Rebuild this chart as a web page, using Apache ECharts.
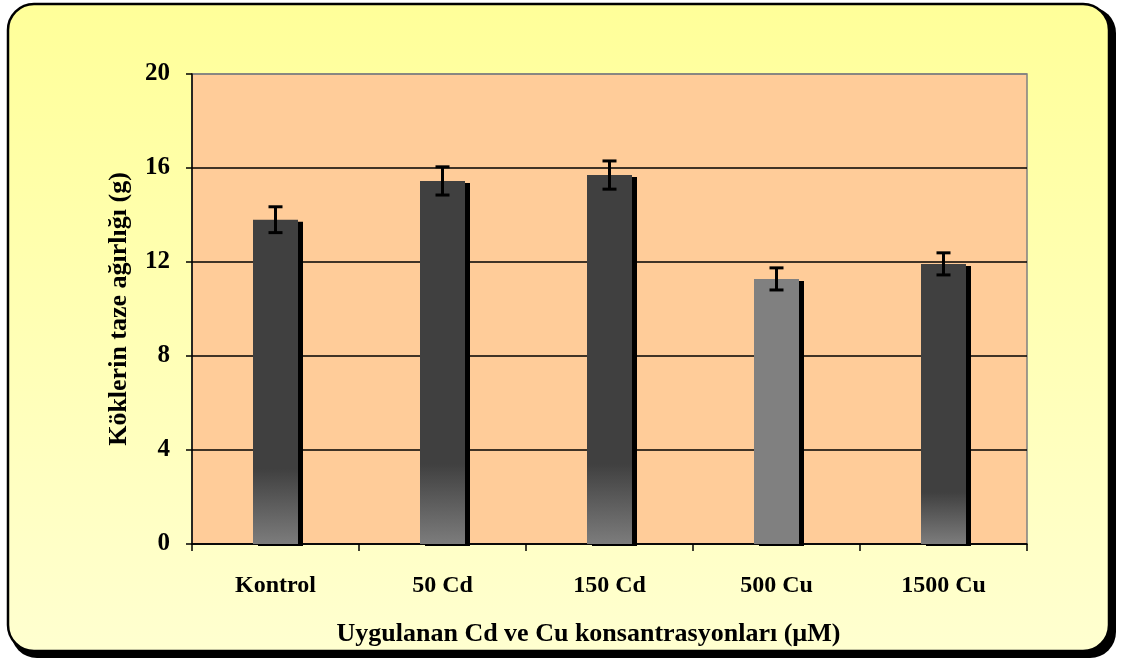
<!DOCTYPE html>
<html>
<head>
<meta charset="utf-8">
<script src="https://cdn.jsdelivr.net/npm/echarts@6/dist/echarts.min.js"></script>
<style>
html,body{margin:0;padding:0;background:#ffffff;}
#chart{width:1125px;height:662px;}
</style>
</head>
<body>
<div id="chart"></div>
<script>
const categories = ['Kontrol', '50 Cd', '150 Cd', '500 Cu', '1500 Cu'];
const means = [13.8, 15.45, 15.7, 11.28, 11.92];
const errors = [0.55, 0.6, 0.6, 0.47, 0.47];
const yTicks = [0, 4, 8, 12, 16, 20];
const yTitle = 'Köklerin taze ağırlığı (g)';
const xTitle = 'Uygulanan Cd ve Cu konsantrasyonları (µM)';

const FONT = '"Liberation Serif", "Times New Roman", serif';
const dark = '#404040';
const mid = '#808080';
const fadeUnits = [3.2, 3.4, 3.4, 0, 2.2];

function barColor(i) {
  if (i === 3) return mid;
  const start = 1 - fadeUnits[i] / means[i];
  return new echarts.graphic.LinearGradient(0, 0, 0, 1, [
    {offset: 0, color: dark},
    {offset: start, color: dark},
    {offset: 1, color: '#7c7c7c'}
  ]);
}

const chart = echarts.init(document.getElementById('chart'), null, {renderer: 'canvas'});
chart.setOption({
  animation: false,
  backgroundColor: 'transparent',
  graphic: [
    {
      type: 'rect', z: -10, silent: true,
      shape: {x: 11, y: 7, width: 1105, height: 651, r: 26},
      style: {fill: '#000'}
    },
    {
      type: 'rect', z: -9, silent: true,
      shape: {x: 8, y: 4, width: 1101, height: 647, r: 26},
      style: {
        fill: new echarts.graphic.LinearGradient(0, 0, 0, 1, [
          {offset: 0, color: '#FFFF99'},
          {offset: 1, color: '#FFFFD0'}
        ]),
        stroke: '#000', lineWidth: 2.5
      }
    }
  ],
  grid: {
    left: 192, top: 74, width: 835, height: 470,
    show: true, backgroundColor: '#FFCC99', borderColor: '#808080', borderWidth: 1.5
  },
  xAxis: {
    type: 'category',
    data: categories,
    name: xTitle,
    nameLocation: 'middle',
    nameGap: 77,
    nameTextStyle: {fontFamily: FONT, fontWeight: 'bold', fontSize: 26, color: '#000', padding: [0, 42, 0, 0]},
    axisLine: {lineStyle: {color: '#000', width: 1.5}},
    axisTick: {show: true, length: 7, lineStyle: {color: '#000', width: 1.5}, alignWithLabel: false},
    axisLabel: {fontFamily: FONT, fontWeight: 'bold', fontSize: 24, color: '#000', margin: 30}
  },
  yAxis: {
    type: 'value',
    min: 0, max: 20, interval: 4,
    name: yTitle,
    nameLocation: 'middle',
    nameGap: 60,
    nameTextStyle: {fontFamily: FONT, fontWeight: 'bold', fontSize: 26, color: '#000'},
    axisLine: {show: true, lineStyle: {color: '#000', width: 1.5}},
    axisTick: {show: true, length: 6, lineStyle: {color: '#000', width: 1.5}},
    axisLabel: {fontFamily: FONT, fontWeight: 'bold', fontSize: 25, color: '#000', margin: 22,
      formatter: v => yTicks.includes(v) ? String(v) : ''},
    splitLine: {show: true, lineStyle: {color: ['#000', '#000', '#000', '#000', '#000', '#808080'], width: 1.5}}
  },
  series: [
    {
      type: 'bar',
      barWidth: 45,
      data: means.map((v, i) => ({
        value: v,
        itemStyle: {
          color: barColor(i),
          borderWidth: 0,
          shadowColor: '#000', shadowOffsetX: 5, shadowOffsetY: 2, shadowBlur: 0
        }
      })),
      z: 2
    },
    {
      type: 'custom',
      z: 5,
      data: means.map((v, i) => [i, v - errors[i], v + errors[i]]),
      renderItem: function (params, api) {
        const x = api.value(0);
        const lo = api.coord([x, api.value(1)]);
        const hi = api.coord([x, api.value(2)]);
        const cw = 7;
        const st = {stroke: '#000', lineWidth: 3};
        return {
          type: 'group',
          children: [
            {type: 'line', shape: {x1: lo[0], y1: lo[1], x2: hi[0], y2: hi[1]}, style: st},
            {type: 'line', shape: {x1: lo[0] - cw, y1: lo[1], x2: lo[0] + cw, y2: lo[1]}, style: st},
            {type: 'line', shape: {x1: hi[0] - cw, y1: hi[1], x2: hi[0] + cw, y2: hi[1]}, style: st}
          ]
        };
      }
    }
  ]
});
</script>
</body>
</html>
